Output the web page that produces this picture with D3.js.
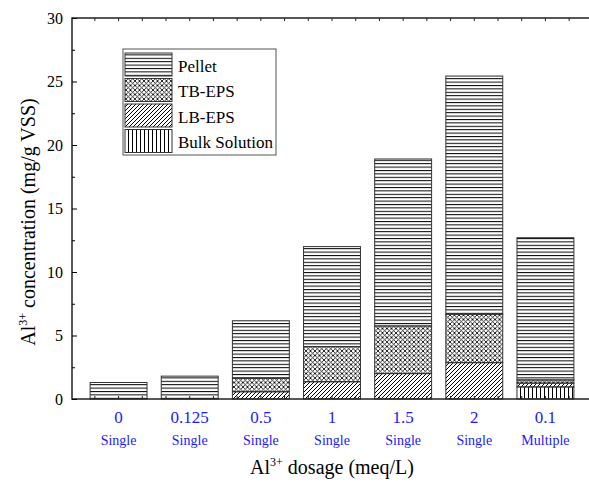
<!DOCTYPE html>
<html>
<head>
<meta charset="utf-8"/>
<script src="https://d3js.org/d3.v7.min.js"></script>
<style>
  body { margin: 0; background: #fff; }
  text { font-family: "Liberation Serif", "Times New Roman", serif; }
</style>
</head>
<body>
<svg id="chart" width="589" height="484"></svg>
<script>
// data
let dosages = ["0", "0.125", "0.5", "1", "1.5", "2", "0.1"];
let modes = ["Single", "Single", "Single", "Single", "Single", "Single", "Multiple"];
let bulk   = [0, 0, 0, 0, 0, 0, 0.95];
let lbEps  = [0, 0, 0.57, 1.36, 2.0, 2.86, 0.3];
let tbEps  = [0, 0, 1.06, 2.76, 3.75, 3.81, 0.25];
let pellet = [1.3, 1.8, 4.53, 7.88, 13.15, 18.76, 11.2];
let yTicks = [0, 5, 10, 15, 20, 25, 30];

let svg = d3.select("#chart");
let pLeft = 72, pTop = 18, pRight = 591, pBottom = 399;

// patterns
let defs = svg.append("defs");
let p1 = defs.append("pattern").attr("id", "pPellet")
    .attr("patternUnits", "userSpaceOnUse").attr("width", 4).attr("height", 3.4);
p1.append("line").attr("x1", 0).attr("x2", 4).attr("y1", 0.5).attr("y2", 0.5)
    .attr("stroke", "#000").attr("stroke-width", 1);
let p2 = defs.append("pattern").attr("id", "pTB")
    .attr("patternUnits", "userSpaceOnUse").attr("width", 4.5).attr("height", 4.5);
p2.append("path").attr("d", "M0,0L4.5,4.5M4.5,0L0,4.5")
    .attr("stroke", "#111").attr("stroke-width", 0.9);
let p3 = defs.append("pattern").attr("id", "pLB")
    .attr("patternUnits", "userSpaceOnUse").attr("width", 4).attr("height", 4);
p3.append("path").attr("d", "M0,4L4,0M-1,1L1,-1M3,5L5,3")
    .attr("stroke", "#000").attr("stroke-width", 1);
let p4 = defs.append("pattern").attr("id", "pBulk")
    .attr("patternUnits", "userSpaceOnUse").attr("width", 4).attr("height", 4);
p4.append("line").attr("x1", 0.5).attr("x2", 0.5).attr("y1", 0).attr("y2", 4)
    .attr("stroke", "#000").attr("stroke-width", 1);

let x = d3.scaleBand().domain(d3.range(dosages.length))
    .range([83, 581]).paddingInner(0.2).paddingOuter(0.1);
let y = d3.scaleLinear().domain([0, 30]).range([pBottom, pTop]);

// stacked bars
let rows = dosages.map((d, i) => ({i: i, bulk: bulk[i], lb: lbEps[i], tb: tbEps[i], pellet: pellet[i]}));
let keys = ["bulk", "lb", "tb", "pellet"];
let fills = {bulk: "url(#pBulk)", lb: "url(#pLB)", tb: "url(#pTB)", pellet: "url(#pPellet)"};
let stack = d3.stack().keys(keys)(rows);

stack.forEach(layer => {
    svg.append("g").selectAll("rect")
        .data(layer.filter(s => s[1] - s[0] > 0))
        .enter().append("rect")
        .attr("x", s => x(s.data.i))
        .attr("width", x.bandwidth())
        .attr("y", s => y(s[1]))
        .attr("height", s => y(s[0]) - y(s[1]))
        .attr("fill", fills[layer.key])
        .attr("stroke", "#333")
        .attr("stroke-width", 1);
});

// frame
svg.append("path")
    .attr("d", "M" + pRight + "," + pTop + "H" + pLeft + "V" + pBottom + "H" + pRight)
    .attr("fill", "none").attr("stroke", "#222").attr("stroke-width", 1.5);

// y axis
let yAxis = d3.axisLeft(y).tickValues(yTicks).tickSizeInner(-5).tickSizeOuter(0).tickPadding(9);
let ga = svg.append("g").attr("transform", "translate(" + pLeft + ",0)").call(yAxis);
ga.select(".domain").remove();
ga.selectAll("text").style("font-size", "16px").style("font-family", "Liberation Serif").attr("fill", "#000");
let yMinor = d3.axisLeft(y).tickValues(d3.range(2.5, 30, 5)).tickSizeInner(-3).tickSizeOuter(0).tickFormat("");
let gm = svg.append("g").attr("transform", "translate(" + pLeft + ",0)").call(yMinor);
gm.select(".domain").remove();

// x ticks (bottom and top, pointing inward)
let step = x.step();
let xt = [];
dosages.forEach((d, i) => {
    let c = x(i) + x.bandwidth() / 2;
    xt.push(c - step / 3, c, c + step / 3);
});
svg.append("g").selectAll("line").data(xt).enter().append("line")
    .attr("x1", d => d).attr("x2", d => d)
    .attr("y1", pBottom).attr("y2", pBottom - 3)
    .attr("stroke", "#222");
svg.append("g").selectAll("line").data(xt).enter().append("line")
    .attr("x1", d => d).attr("x2", d => d)
    .attr("y1", pTop).attr("y2", pTop + 3)
    .attr("stroke", "#222");

// category labels
svg.append("g").selectAll("text").data(dosages).enter().append("text")
    .attr("x", (d, i) => x(i) + x.bandwidth() / 2)
    .attr("y", 423)
    .attr("text-anchor", "middle")
    .style("font-size", "17px")
    .attr("fill", "#1a1aff")
    .text(d => d);
svg.append("g").selectAll("text").data(modes).enter().append("text")
    .attr("x", (d, i) => x(i) + x.bandwidth() / 2)
    .attr("y", 445)
    .attr("text-anchor", "middle")
    .style("font-size", "14px")
    .attr("fill", "#1a1aff")
    .text(d => d);

// axis titles
let xt2 = svg.append("text")
    .attr("x", 332).attr("y", 474)
    .attr("text-anchor", "middle")
    .style("font-size", "20px");
xt2.append("tspan").text("Al");
xt2.append("tspan").text("3+").style("font-size", "12px").attr("dy", -8);
xt2.append("tspan").text(" dosage (meq/L)").attr("dy", 8);

let yt = svg.append("text")
    .attr("transform", "translate(35,222) rotate(-90)")
    .attr("text-anchor", "middle")
    .style("font-size", "20px");
yt.append("tspan").text("Al");
yt.append("tspan").text("3+").style("font-size", "12px").attr("dy", -8);
yt.append("tspan").text(" concentration (mg/g VSS)").attr("dy", 8);

// legend
let legNames = ["Pellet", "TB-EPS", "LB-EPS", "Bulk Solution"];
let legFills = ["url(#pPellet)", "url(#pTB)", "url(#pLB)", "url(#pBulk)"];
let leg = svg.append("g");
leg.append("rect").attr("x", 123).attr("y", 49).attr("width", 153).attr("height", 106)
    .attr("fill", "#fff").attr("stroke", "#555").attr("stroke-width", 1);
legNames.forEach((n, i) => {
    let ly = 53 + i * 25.5;
    leg.append("rect").attr("x", 125).attr("y", ly).attr("width", 47).attr("height", 23)
        .attr("fill", legFills[i]).attr("stroke", "#333").attr("stroke-width", 1);
    leg.append("text").attr("x", 178).attr("y", ly + 18.5)
        .style("font-size", "17px").text(n);
});
</script>
</body>
</html>
